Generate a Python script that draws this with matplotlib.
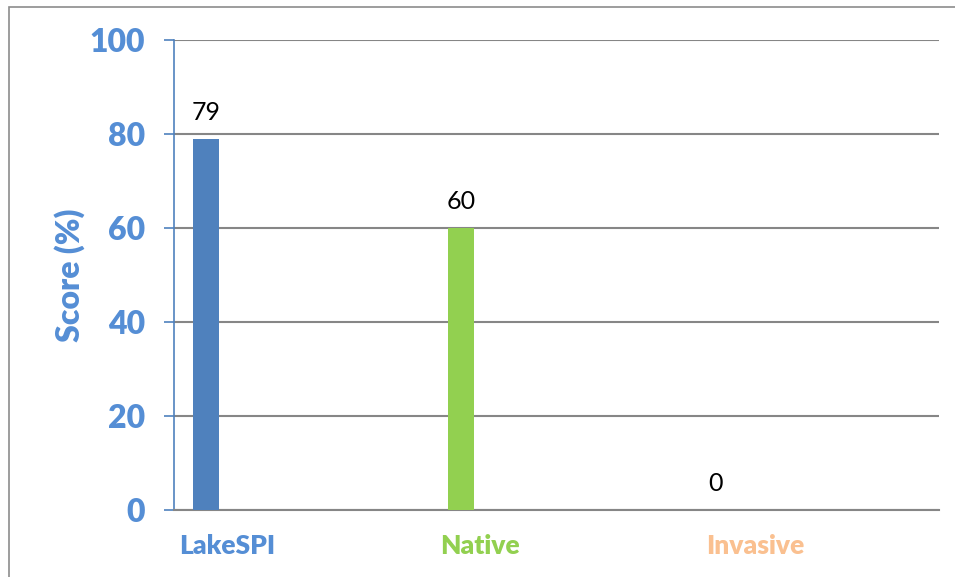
import matplotlib.pyplot as plt
from matplotlib.patches import Rectangle

# data
categories = ['LakeSPI', 'Native', 'Invasive']
scores = [79, 60, 0]
bar_colors = ['#4F81BD', '#92D050', '#F79646']
label_colors = ['#558ED5', '#92D050', '#FAC090']
y_ticks = [0, 20, 40, 60, 80, 100]

plt.rcParams['font.family'] = ['Lato', 'DejaVu Sans']

fig = plt.figure(figsize=(9.55, 5.77), dpi=100)
ax = fig.add_axes([174 / 955, 1 - 510 / 577, 765 / 955, 470 / 577])

# bars sit left of the category centre (excel clustered layout)
xs = [i - 0.375 for i in range(len(categories))]
ax.bar(xs, scores, width=0.1, color=bar_colors, zorder=3)
for x, v in zip(xs, scores):
    ax.annotate(str(v), (x, v), xytext=(0, 19), textcoords='offset points',
                ha='center', va='center', fontsize=18, color='black')

ax.set_xlim(-0.5, 2.5)
ax.set_ylim(0, 100)
ax.set_yticks(y_ticks)
ax.set_yticklabels([str(t) for t in y_ticks], fontsize=23, fontweight='heavy',
                   color='#558ED5')
ax.tick_params(axis='y', direction='out', length=7, width=1.2, color='#4F81BD', pad=14)

label_offsets = [-0.29, -0.30, -0.22]
ax.set_xticks([i + o for i, o in enumerate(label_offsets)])
ax.set_xticklabels(categories, fontsize=19, fontweight='heavy')
for lbl, c in zip(ax.get_xticklabels(), label_colors):
    lbl.set_color(c)
ax.tick_params(axis='x', length=0, pad=17)

ax.set_ylabel('Score (%)', fontsize=23, fontweight='heavy', color='#558ED5', labelpad=3)

ax.grid(axis='y', color='#868686', linewidth=1.5, zorder=0)
ax.set_axisbelow(True)
for s in ['top', 'right']:
    ax.spines[s].set_visible(False)
ax.spines['left'].set_color('#4F81BD')
ax.spines['left'].set_linewidth(1.2)
ax.spines['bottom'].set_color('#868686')
ax.spines['bottom'].set_linewidth(1.5)

# outer chart border, cut off at the right and bottom
fig.add_artist(Rectangle((8.5 / 955, -0.1), 1.2, 1.1 - 7.5 / 577,
                         transform=fig.transFigure, fill=False,
                         edgecolor='#8C8C8C', linewidth=1.2))

fig.savefig('out.png', dpi=100)
